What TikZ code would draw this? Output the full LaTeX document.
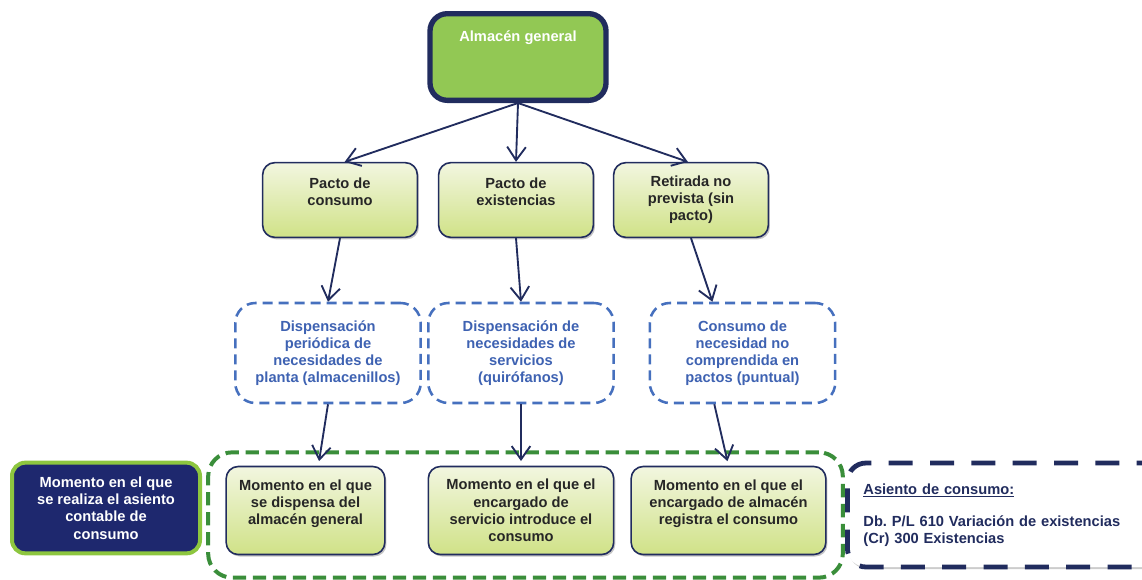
\documentclass[tikz,border=0pt]{standalone}
\usepackage{fontspec}
\setmainfont{Liberation Sans}
\usepackage{xcolor}
\definecolor{almnavy}{RGB}{33,44,94}
\definecolor{almgreen}{RGB}{146,200,84}
\definecolor{almlight}{RGB}{242,246,224}
\definecolor{almlime}{RGB}{208,226,135}
\definecolor{almblue}{RGB}{70,112,190}
\definecolor{almbluetext}{RGB}{62,98,178}
\definecolor{almframe}{RGB}{58,142,58}
\definecolor{almleaf}{RGB}{141,198,63}
\definecolor{almink}{RGB}{38,38,38}
\usetikzlibrary{arrows.meta,calc,shadows}
\frenchspacing
\begin{document}
\begin{tikzpicture}[x=0.75pt,y=-0.75pt,
  bigfont/.style={font=\fontsize{11}{12.9}\selectfont\bfseries},
  almbox/.style={draw=almnavy,line width=4pt,fill=almgreen,rounded corners=13pt,
    align=center,bigfont,text=white,minimum width=132pt,minimum height=65pt},
  pactobox/.style={draw=almnavy,line width=1.2pt,top color=almlight,bottom color=almlime,
    rounded corners=9pt,align=center,bigfont,text=almink,minimum width=116pt,minimum height=56pt,
    drop shadow={shadow xshift=1.2pt,shadow yshift=-1.5pt,fill=black!45}},
  dispbox/.style={draw=almblue,line width=1.9pt,dash pattern=on 7.5pt off 4.5pt,fill=white,
    rounded corners=15pt,align=center,bigfont,
    text=almbluetext,minimum width=139pt,minimum height=75pt},
  momentbox/.style={pactobox,minimum height=66pt},
  flecha/.style={-{Straight Barb[length=10pt,width=14pt]},line width=1.4pt,almnavy}
]
  \useasboundingbox (0,0) rectangle (1142,579);
  % top
  \node[almbox] (alm) at (518,57) {Almac\'en general\\[19pt]~};
  % pactos
  \node[pactobox] (pconsumo) at (340,200) {Pacto de\\consumo\\~};
  \node[pactobox] (pexist) at (516,200) {Pacto de\\existencias\\~};
  \node[pactobox] (retirada) at (691,200) {Retirada no\\prevista (sin\\pacto)};
  % dispensaciones
  \node[dispbox] (dplanta) at (328,353) {Dispensaci\'on\\peri\'odica de\\necesidades de\\planta (almacenillos)};
  \node[dispbox] (dserv) at (521,353) {Dispensaci\'on de\\necesidades de\\servicios\\(quir\'ofanos)};
  \node[dispbox] (dpuntual) at (742.5,353) {Consumo de\\necesidad no\\comprendida en\\pactos (puntual)};
  % momento del asiento
  \node[draw=almframe,line width=3pt,dash pattern=on 10pt off 5pt,rounded corners=18pt,
    minimum width=476pt,minimum height=94pt] (marco) at (525.5,515) {};
  \node[momentbox,minimum width=119pt] (mdisp) at (305.5,510.5) {Momento en el que\\se dispensa del\\almac\'en general\\~};
  \node[momentbox,minimum width=139pt] (mserv) at (521,510.5) {Momento en el que el\\encargado de\\servicio introduce el\\consumo};
  \node[momentbox,minimum width=146pt] (malm) at (728.5,510.5) {Momento en el que el\\encargado de almac\'en\\registra el consumo\\~};
  \node[draw=almleaf,line width=3pt,fill=almnavy!90!blue,rounded corners=10pt,align=center,
    bigfont,text=white,minimum width=141pt,minimum height=68pt] (asientoq) at (106,508)
    {Momento en el que\\se realiza el asiento\\contable de\\consumo};
  \node[draw=almnavy,line width=3.6pt,dash pattern=on 18pt off 13pt,fill=white,rounded corners=14pt,
    anchor=west,align=left,text width=225pt,inner xsep=12pt,minimum height=78pt,bigfont,text=almnavy,
    drop shadow={shadow xshift=1.2pt,shadow yshift=-1.5pt,fill=black!40}] (asiento) at (845,515)
    {\underline{Asiento de consumo:}\\[11pt]Db. P/L 610 Variaci\'on de existencias\\(Cr) 300 Existencias};
  % flechas
  \draw[flecha] (alm.south) -- ($(pconsumo.north west)!0.53!(pconsumo.north east)$);
  \draw[flecha] (alm.south) -- (pexist.north);
  \draw[flecha] (alm.south) -- ($(retirada.north west)!0.48!(retirada.north east)$);
  \draw[flecha] (pconsumo.south) -- (dplanta.north);
  \draw[flecha] (pexist.south) -- (dserv.north);
  \draw[flecha] (retirada.south) -- ($(dpuntual.north west)!0.34!(dpuntual.north east)$);
  \draw[flecha,shorten >=3.5pt] (dplanta.south) -- ($(mdisp.north west)!0.58!(mdisp.north east)$);
  \draw[flecha,shorten >=3.5pt] (dserv.south) -- (mserv.north);
  \draw[flecha,shorten >=3.5pt] ($(dpuntual.south west)!0.35!(dpuntual.south east)$) -- (malm.north);
\end{tikzpicture}
\end{document}
